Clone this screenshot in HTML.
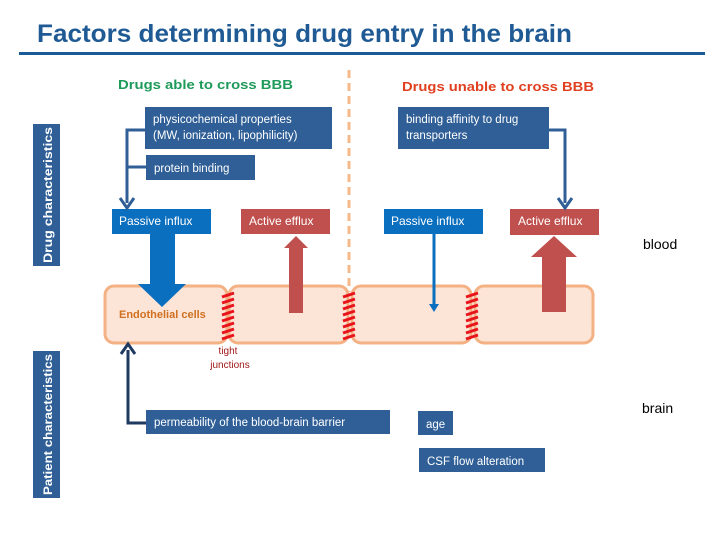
<!DOCTYPE html>
<html><head><meta charset="utf-8"><style>
html,body{margin:0;padding:0;background:#fff;}
svg{display:block;font-family:"Liberation Sans",sans-serif;}
</style></head><body>
<svg width="720" height="540" viewBox="0 0 720 540" xmlns="http://www.w3.org/2000/svg">
<defs>
<pattern id="tj" width="12" height="5" patternUnits="userSpaceOnUse">
<rect width="12" height="5" fill="#fce4d6"/>
<rect y="0" width="12" height="3" fill="#e8141c"/>
</pattern>
</defs>
<text x="37" y="42" font-size="25" font-weight="bold" fill="#1f5a94" textLength="535" lengthAdjust="spacingAndGlyphs">Factors determining drug entry in the brain</text>
<rect x="19" y="52" width="686" height="3" fill="#1a5a96"/>

<rect x="33" y="124" width="27" height="142" fill="#2f5f96"/>
<text transform="translate(52,266) rotate(-90)" font-size="12" font-weight="bold" fill="#fff" textLength="136" lengthAdjust="spacingAndGlyphs" x="3">Drug characteristics</text>
<rect x="33" y="351" width="27" height="147" fill="#2f5f96"/>
<text transform="translate(52,498) rotate(-90)" font-size="12" font-weight="bold" fill="#fff" textLength="141" lengthAdjust="spacingAndGlyphs" x="3">Patient characteristics</text>

<text x="118" y="89" font-size="13" font-weight="bold" fill="#1e9a5a" textLength="175" lengthAdjust="spacingAndGlyphs">Drugs able to cross BBB</text>
<text x="402" y="91" font-size="13" font-weight="bold" fill="#e04020" textLength="192" lengthAdjust="spacingAndGlyphs">Drugs unable to cross BBB</text>

<line x1="349" y1="70" x2="349" y2="292" stroke="#f5b98a" stroke-width="3" stroke-dasharray="8,5"/>

<!-- cells -->
<g fill="#fce4d6" stroke="#f4b183" stroke-width="3">
<rect x="105" y="286" width="122" height="57" rx="9"/>
<rect x="229" y="286" width="119" height="57" rx="9"/>
<rect x="352" y="286" width="119" height="57" rx="9"/>
<rect x="475" y="286" width="118" height="57" rx="9"/>
</g>
<g stroke="#e8141c" stroke-width="3">
<path d="M222 297l12 -4M222 303l12 -4M222 309l12 -4M222 315l12 -4M222 321l12 -4M222 327l12 -4M222 333l12 -4M222 339l12 -4"/>
<path d="M343 297l12 -4M343 303l12 -4M343 309l12 -4M343 315l12 -4M343 321l12 -4M343 327l12 -4M343 333l12 -4M343 339l12 -4"/>
<path d="M466 297l12 -4M466 303l12 -4M466 309l12 -4M466 315l12 -4M466 321l12 -4M466 327l12 -4M466 333l12 -4M466 339l12 -4"/>
</g>
<text x="119" y="318" font-size="11" font-weight="bold" fill="#d07020">Endothelial cells</text>
<text x="228" y="354" font-size="10" fill="#a01818" text-anchor="middle">tight</text>
<text x="230" y="368" font-size="10" fill="#a01818" text-anchor="middle">junctions</text>

<!-- boxes -->
<g fill="#2f5f96">
<rect x="145" y="107" width="187" height="42"/>
<rect x="146" y="155" width="109" height="25"/>
<rect x="398" y="107" width="151" height="42"/>
<rect x="146" y="410" width="244" height="24"/>
<rect x="418" y="411" width="35" height="24"/>
<rect x="419" y="448" width="126" height="24"/>
</g>
<g fill="#fff" font-size="11.5">
<text x="153" y="123">physicochemical properties</text>
<text x="153" y="139">(MW, ionization, lipophilicity)</text>
<text x="154" y="172">protein binding</text>
<text x="406" y="123">binding affinity to drug</text>
<text x="406" y="139">transporters</text>
<text x="154" y="426">permeability of the blood-brain barrier</text>
<text x="426" y="428">age</text>
<text x="427" y="465">CSF flow alteration</text>
</g>

<rect x="112" y="209" width="99" height="25" fill="#0b6fbf"/>
<rect x="241" y="209" width="89" height="25" fill="#c0504d"/>
<rect x="384" y="209" width="99" height="25" fill="#0b6fbf"/>
<rect x="510" y="209" width="89" height="26" fill="#c0504d"/>
<g fill="#fff" font-size="12">
<text x="119" y="225">Passive influx</text>
<text x="249" y="225">Active efflux</text>
<text x="391" y="225">Passive influx</text>
<text x="518" y="225">Active efflux</text>
</g>

<!-- connectors -->
<g fill="none" stroke="#2f5f96" stroke-width="3">
<path d="M145 130H127V203"/>
<path d="M127 167H146"/>
<path d="M549 130H565V203"/>
</g>
<path d="M120 198L127 208L134 198" fill="none" stroke="#2f5f96" stroke-width="3"/>
<path d="M558 198L565 208L572 198" fill="none" stroke="#2f5f96" stroke-width="3"/>

<!-- arrows -->
<path d="M150 234H175V284H186L162 307L138 284H150Z" fill="#0b6fbf"/>
<path d="M289 313V248H284L296 236L308 248H303V313Z" fill="#c0504d"/>
<line x1="434" y1="234" x2="434" y2="306" stroke="#0b6fbf" stroke-width="3"/>
<path d="M429 304L434 312L439 304Z" fill="#0b6fbf"/>
<path d="M542 312V257H531L554 236L577 257H566V312Z" fill="#c0504d"/>

<path d="M146 423H128V350" fill="none" stroke="#1f3a60" stroke-width="3"/>
<path d="M121 354L128 344L135 354" fill="none" stroke="#1f3a60" stroke-width="3"/>

<text x="643" y="249" font-size="14" fill="#000">blood</text>
<text x="642" y="413" font-size="14" fill="#000">brain</text>
</svg>
</body></html>
